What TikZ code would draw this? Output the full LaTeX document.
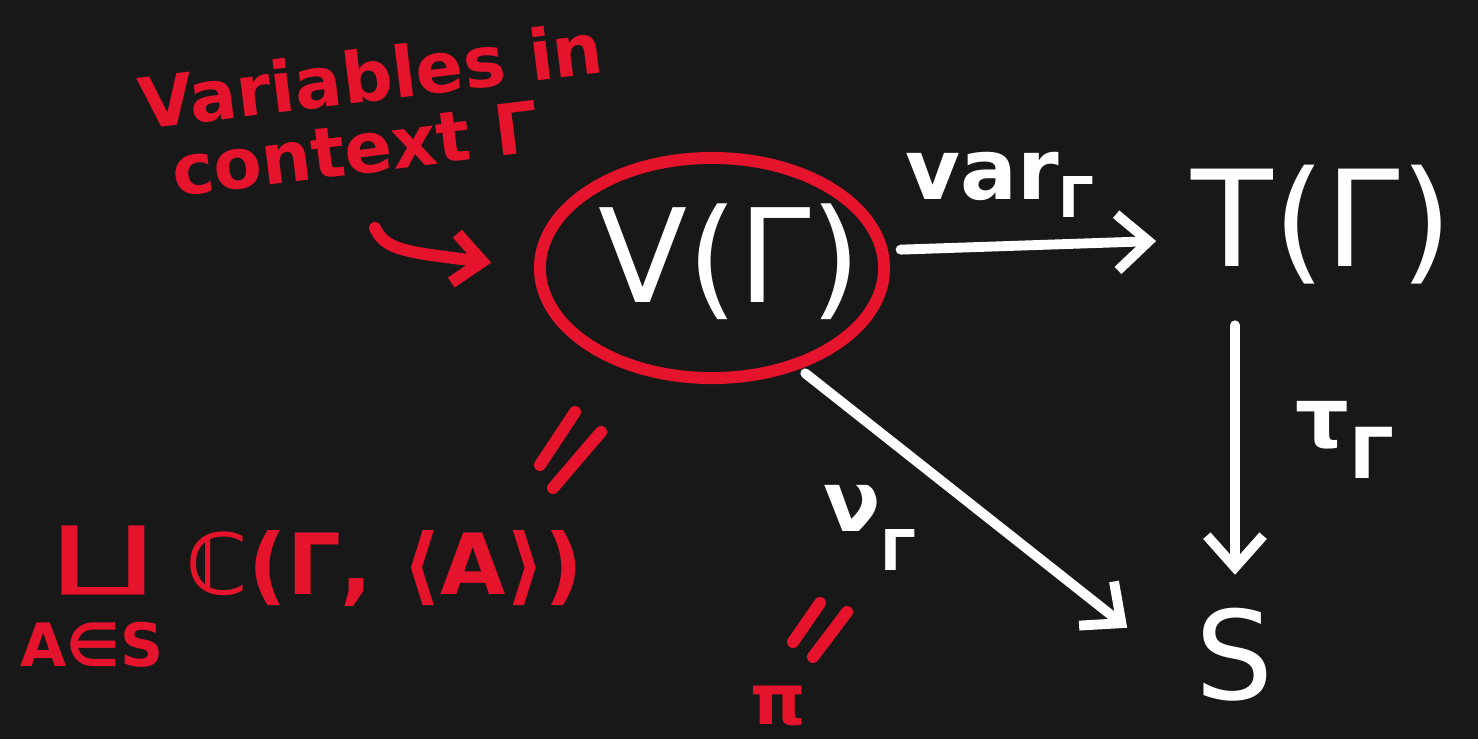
\documentclass[tikz,border=0pt]{standalone}
\usepackage{fontspec}
\setmainfont{DejaVu Sans}
\usetikzlibrary{arrows.meta,positioning,shapes.geometric}
\definecolor{boardbg}{HTML}{181818}
\definecolor{inkred}{HTML}{E5132B}
\definecolor{inkwhite}{HTML}{FFFFFF}
\newcommand{\gsub}[2]{\raisebox{#2}{\fontsize{#1}{#1}\selectfont Γ}}

\tikzset{
  bigtext/.style={text=inkwhite, inner sep=0pt, font=\fontsize{37}{40}\selectfont},
  whitelbl/.style={text=inkwhite, inner sep=0pt, font=\bfseries\fontsize{24}{26}\selectfont},
  redtext/.style={text=inkred, inner sep=0pt, font=\bfseries\fontsize{20}{24}\selectfont},
  ring/.style={draw=inkred, ellipse, line width=3.4pt, minimum width=3.44cm, minimum height=2.2cm},
  warrow/.style={draw=inkwhite, line width=2.8pt, line cap=round,
    -{Straight Barb[length=9pt,width=16pt]}},
  rarrow/.style={draw=inkred, line width=3.4pt, line cap=round,
    -{Straight Barb[length=8pt,width=14pt]}},
  eqbar/.style={draw=inkred, line width=3.4pt, line cap=round}
}

\begin{document}
\begin{tikzpicture}[x=0.01cm, y=-0.01cm]
  \fill[boardbg] (0,0) rectangle (1478,739);
  \useasboundingbox (0,0) rectangle (1478,739);

  \node[redtext, rotate=7, align=left, font=\bfseries\fontsize{20}{20}\selectfont] (ctxnote) at (375,110)
    {Variables in\\\hspace{7pt}context Γ};
  \coordinate (ptrtail) at (375,228);

  \node[ring] (ctxring) at (712,268) {};
  \node[bigtext] (vgam) at (730,262) {V(Γ)};
  \node[bigtext, font=\fontsize{38}{40}\selectfont] (tgam) at (1322,225) {T(Γ)};
  \node[bigtext, font=\fontsize{35}{38}\selectfont] (sset) at (1235,655) {S};

  \node[whitelbl] (varlbl) at (1000,185) {var\gsub{16}{-5pt}};
  \node[whitelbl] (taulbl) at (1345,440) {τ\gsub{20}{-9pt}};
  \node[whitelbl] (nulbl) at (870,528) {ν\gsub{16}{-11pt}};

  \node[text=inkred, inner sep=0pt, font=\mdseries\fontsize{30}{30}\selectfont] (copr) at (103,560) {\scalebox{1.3}[0.72]{∐}};
  \node[redtext, font=\bfseries\fontsize{17}{20}\selectfont] (idx) at (92,645) {A∈S};
  \node[redtext, font=\bfseries\fontsize{24}{26}\selectfont] (homset) at (385,568) {ℂ(Γ, ⟨A⟩)};
  \node[redtext] (pisym) at (778,706) {π};

  \draw[rarrow, shorten >=0.43cm] (ptrtail) .. controls (385,250) and (405,252) .. (ctxring.west);
  \draw[warrow, shorten <=3pt] ([yshift=0.18cm]ctxring.east) -- ([xshift=-0.35cm,yshift=-0.16cm]tgam.west);
  \draw[warrow, shorten <=0.4cm, shorten >=0.33cm] (sset.north |- tgam.south) -- (sset.north);
  \draw[warrow, shorten <=2pt] (ctxring.-49) -- ([xshift=-0.68cm,yshift=-0.2cm]sset.north west);

  \draw[eqbar] (540,465) -- (575,412);
  \draw[eqbar] (553,488) -- (601,432);
  \draw[eqbar] (793,642) -- (820,603);
  \draw[eqbar] (813,657) -- (847,612);
\end{tikzpicture}
\end{document}
